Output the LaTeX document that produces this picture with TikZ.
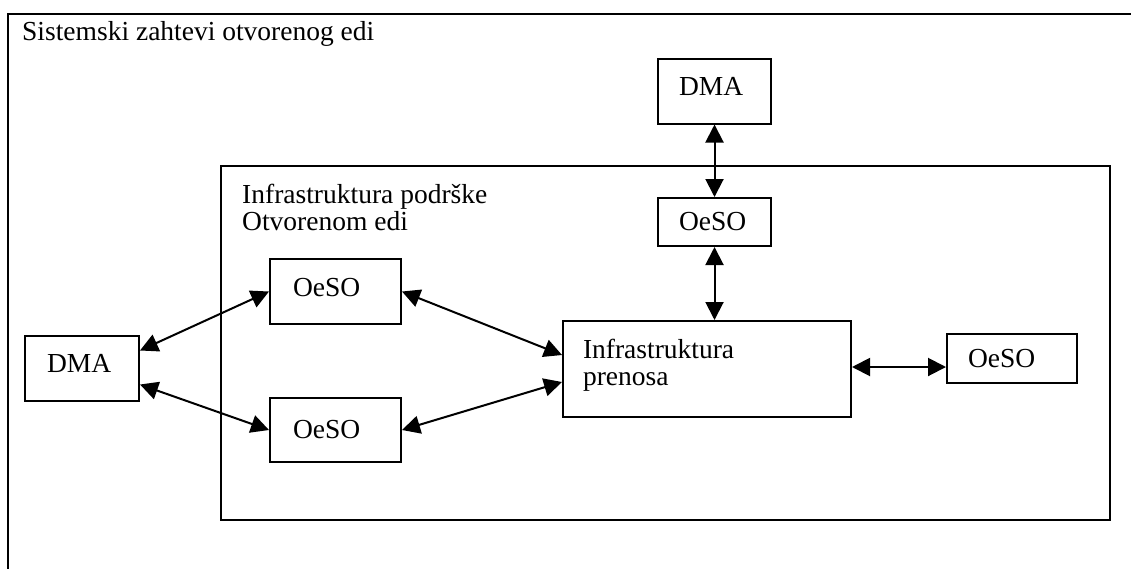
\documentclass[tikz,border=0pt]{standalone}
\usepackage{fontspec}
\setmainfont{Liberation Serif}
\usetikzlibrary{arrows.meta,calc}
\begin{document}
\begin{tikzpicture}[x=1pt,y=-1pt,
  frame/.style={draw=black,line width=2pt},
  box/.style={draw=black,line width=2pt,inner ysep=0pt,align=left,
    font=\fontsize{27.5}{27}\selectfont},
  lbl/.style={inner sep=0pt,align=left,font=\fontsize{27.5}{27}\selectfont},
  conn/.style={line width=2pt,{Triangle[length=18pt,width=18pt]}-{Triangle[length=18pt,width=18pt]}}]
\useasboundingbox (0,0) rectangle (1131,568);
\fill[white] (0,0) rectangle (1131,568);
\clip (0,0) rectangle (1131,568);
% outer frame (extends past the visible area)
\draw[frame] (8,14) rectangle (1150,590);
\node[lbl,anchor=base west] (title) at (22,40) {Sistemski zahtevi otvorenog edi};
% inner frame
\draw[frame] (221,166) rectangle (1110,520);
\node[lbl,anchor=north west] (innerlbl) at (242,184) {Infrastruktura podrške\\Otvorenom edi};
% boxes
\node[box,minimum height=65pt,inner xsep=21pt,text width=71pt,text depth=10pt] (dmaT) at (714.5,91) {DMA};
\node[box,minimum height=48pt,inner xsep=21pt,text width=71pt] (oesoT) at (714.5,222) {OeSO};
\node[box,minimum height=96pt,inner xsep=20pt,text width=248pt,text depth=40pt] (infra) at (707,369) {Infrastruktura\\prenosa};
\node[box,minimum height=49pt,inner xsep=21pt,text width=88pt] (oesoR) at (1012,358.5) {OeSO};
\node[box,minimum height=65pt,inner xsep=23pt,text width=85pt,text depth=8pt] (oesoU) at (335.5,291.5) {OeSO};
\node[box,minimum height=64pt,inner xsep=23pt,text width=85pt] (oesoL) at (335.5,430) {OeSO};
\node[box,minimum height=65pt,inner xsep=22pt,text width=70pt,text depth=10pt] (dmaL) at (82,368.5) {DMA};
% connectors
\draw[conn] (dmaT.south) -- (oesoT.north);
\draw[conn] (oesoT.south) -- (oesoT.south |- infra.north);
\draw[conn] (infra.east |- 0,367) -- (oesoR.west |- 0,367);
\draw[conn] ([yshift=18pt]dmaL.east) -- (oesoU.west);
\draw[conn] ([yshift=-16pt]dmaL.east) -- (oesoL.west);
\draw[conn] (oesoU.east) -- ([yshift=14pt]infra.west);
\draw[conn] (oesoL.east) -- ([yshift=-13pt]infra.west);
\end{tikzpicture}
\end{document}
